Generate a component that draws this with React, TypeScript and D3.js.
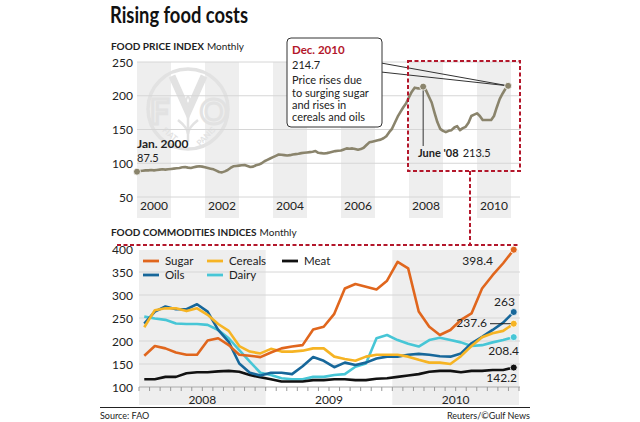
import React from 'react';
import * as d3 from 'd3';

// ---------- DATA ----------
const fpiYears = [2000, 2001, 2002, 2003, 2004, 2005, 2006, 2007, 2008, 2009, 2010];
const fpiYearLabels = ['2000', '2002', '2004', '2006', '2008', '2010'];
const fpiTicks = [50, 100, 150, 200, 250];
// FAO food price index, monthly Jan 2000 - Dec 2010
const fpi2000 = [87.5, 88.5, 89, 89.5, 89.5, 90, 89.5, 90, 90.5, 91, 90.5, 91];
const fpi2001 = [91.5, 92, 92.5, 93, 94, 94.5, 93.5, 93, 94, 95, 95.5, 95];
const fpi2002 = [94, 93, 92, 91, 89, 87, 86.5, 88, 90, 93, 95.5, 96];
const fpi2003 = [96.5, 97, 97.5, 96, 94.5, 95, 97, 98, 100, 103, 105, 107];
const fpi2004 = [109, 111, 113, 112.5, 112, 111.5, 112, 113, 113.5, 114, 115, 115.5];
const fpi2005 = [116, 116.5, 117, 118, 115.5, 115, 114.5, 115, 116, 117, 118, 118.5];
const fpi2006 = [119, 120.5, 122, 121.5, 122, 121, 120, 121, 123, 127, 131, 132];
const fpi2007 = [133, 134, 135, 137, 140, 146, 151, 160, 169, 176, 183, 189];
const fpi2008 = [198, 206, 212, 211, 211, 213.5, 208, 199, 190, 175, 161, 151];
const fpi2009 = [148, 146, 148, 149, 153, 155, 149, 152, 154, 160, 170, 172];
const fpi2010 = [174, 170, 164, 164, 164, 164, 170, 183, 195, 203, 210, 214.7];
const fpiMonthly = [
  ...fpi2000, ...fpi2001, ...fpi2002, ...fpi2003, ...fpi2004, ...fpi2005,
  ...fpi2006, ...fpi2007, ...fpi2008, ...fpi2009, ...fpi2010,
];

const commodityYears = ['2008', '2009', '2010'];
const commodityTicks = [100, 150, 200, 250, 300, 350, 400];
const sugar = [168, 189, 184, 175, 170, 170, 201, 206, 191, 170, 168, 165,
  175, 184, 188, 191, 225, 231, 259, 314, 324, 318, 312, 331,
  372, 358, 264, 231, 213, 224, 246, 260, 314, 343, 369, 398.4];
const oils = [238, 264, 275, 269, 269, 280, 264, 224, 198, 151, 131, 125,
  131, 131, 128, 145, 165, 157, 143, 153, 148, 153, 162, 166,
  166, 170, 172, 170, 167, 166, 173, 195, 209, 224, 240, 263];
const cereals = [230, 267, 271, 271, 265, 271, 257, 237, 222, 189, 177, 173,
  183, 177, 177, 179, 184, 184, 166, 161, 157, 166, 170, 170,
  170, 166, 159, 153, 153, 150, 167, 189, 208, 217, 222, 237.6];
const dairy = [253, 249, 246, 238, 237, 237, 235, 224, 206, 180, 155, 131,
  126, 119, 117, 117, 122, 122, 126, 128, 144, 151, 206, 213,
  202, 194, 188, 202, 207, 202, 197, 189, 191, 197, 202, 208.4];
const meat = [117, 117, 122, 122, 130, 132, 132, 134, 135, 133, 126, 121,
  117, 112, 112, 112, 115, 115, 117, 117, 115, 115, 118, 119,
  122, 125, 128, 133, 135, 135, 132, 135, 135, 137, 137, 142.2];
const endLabels = ['398.4', '263', '237.6', '208.4', '142.2'];

// ---------- STYLE ----------
const FONT = 'Lato, "Open Sans", sans-serif';
const C = {
  sugar: '#e0661d',
  oils: '#17679a',
  cereals: '#f6b424',
  dairy: '#47c6d6',
  meat: '#111111',
  fpi: '#8a846c',
  band: '#eeeeee',
  grid: '#d6d6d6',
  red: '#b3172b',
  text: '#222',
  water: '#e2e2e2',
};

export default function App() {
  // top chart scales
  const xTop = d3.scaleLinear().domain([2000, 2011]).range([137, 511]);
  const yTop = d3.scaleLinear().domain([50, 250]).range([197, 62]);
  const fpiLine = d3.line<number>()
    .x((_, i) => xTop(2000 + i / 12))
    .y((v) => yTop(v));

  // bottom chart scales
  const xLow = d3.scaleLinear().domain([0, 36]).range([139, 519]);
  const yLow = d3.scaleLinear().domain([100, 400]).range([387, 249]);
  const lowLine = d3.line<number>()
    .x((_, i) => xLow(i + 0.5))
    .y((v) => yLow(v));

  const series = [
    { name: 'Dairy', data: dairy, color: C.dairy },
    { name: 'Meat', data: meat, color: C.meat },
    { name: 'Oils', data: oils, color: C.oils },
    { name: 'Cereals', data: cereals, color: C.cereals },
    { name: 'Sugar', data: sugar, color: C.sugar },
  ];

  const jan00 = fpiMonthly[0];
  const jun08Idx = 8 * 12 + 5;
  const lastIdx = fpiMonthly.length - 1;
  const lastX = xTop(2000 + lastIdx / 12);
  const lastY = yTop(fpiMonthly[lastIdx]);
  const junX = xTop(2000 + jun08Idx / 12);
  const junY = yTop(fpiMonthly[jun08Idx]);

  const last = (a: number[]) => a[a.length - 1];
  const endX = xLow(35.5);

  return (
    <div style={{ position: 'absolute', left: 0, top: 0 }}>
      <svg width={640} height={422} style={{ display: 'block', fontFamily: FONT }}>
        <rect x={0} y={0} width={640} height={422} fill="#fff" />

        {/* Title */}
        <text x={110} y={23} fontSize={22} fontWeight={700} fill="#111" textLength={138} lengthAdjust="spacingAndGlyphs">Rising food costs</text>

        {/* ---------- TOP CHART ---------- */}
        <text x={111} y={50} fontSize={10} fill={C.text}>
          <tspan fontWeight={700}>FOOD PRICE INDEX</tspan>
          <tspan dx={3}>Monthly</tspan>
        </text>

        {fpiYears.filter((y) => (y - 2000) % 2 === 0).map((y) => (
          <rect key={y} x={xTop(y)} y={62} width={xTop(y + 1) - xTop(y)} height={156} fill={C.band} />
        ))}

        {/* FAO watermark */}
        <g fill="none" stroke={C.water}>
          <circle cx={188} cy={109} r={40} strokeWidth={3.5} />
          <path d="M172 76 L188 112 L204 76" strokeWidth={7} strokeLinejoin="miter" />
          <path d="M188 96 q-4 6 0 9 q4 -3 0 -9" strokeWidth={2} />
          <path d="M188 112 L188 142" strokeWidth={2.5} />
          <path d="M178 120 q10 8 10 14 M198 120 q-10 8 -10 14" strokeWidth={2.5} />
        </g>
        <text x={150} y={124} fontSize={34} fontWeight={700} fill="none" stroke={C.water} strokeWidth={3}>F</text>
        <text x={200} y={124} fontSize={34} fontWeight={700} fill="none" stroke={C.water} strokeWidth={3}>O</text>
        <text x={162} y={134} fontSize={8} fontWeight={700} fill={C.water} transform="rotate(40 166 132)">FIAT</text>
        <text x={196} y={143} fontSize={8} fontWeight={700} fill={C.water} transform="rotate(-45 202 140)">PANIS</text>

        {fpiTicks.map((t) => (
          <g key={t}>
            <line x1={137} x2={520} y1={yTop(t)} y2={yTop(t)} stroke={C.grid} strokeWidth={1} />
            <text x={133} y={yTop(t) + 4.5} fontSize={12} textAnchor="end" fill={C.text}>{t}</text>
          </g>
        ))}
        {fpiYearLabels.map((l) => (
          <text key={l} x={xTop(+l + 0.5)} y={210} fontSize={12} textAnchor="middle" fill={C.text}>{l}</text>
        ))}

        <path d={fpiLine(fpiMonthly) || ''} fill="none" stroke={C.fpi} strokeWidth={2.6} strokeLinejoin="round" />

        {/* Jan 2000 */}
        <circle cx={xTop(2000)} cy={yTop(jan00)} r={3.5} fill={C.fpi} stroke="#fff" strokeWidth={0.8} />
        <text x={137} y={148} fontSize={12} fontWeight={700} fill={C.text}>Jan. 2000</text>
        <text x={137} y={162} fontSize={11} fill={C.text}>{jan00}</text>

        {/* June 08 */}
        <line x1={junX} x2={junX} y1={junY} y2={146} stroke="#333" strokeWidth={1} />
        <circle cx={junX} cy={junY} r={3.5} fill={C.fpi} stroke="#fff" strokeWidth={0.8} />
        <text x={418} y={157} fontSize={11} fill={C.text}>
          <tspan fontWeight={700}>June '08</tspan>
          <tspan dx={4}>{fpiMonthly[jun08Idx]}</tspan>
        </text>

        {/* callout */}
        <line x1={381} y1={63} x2={lastX} y2={lastY} stroke="#333" strokeWidth={1} />
        <line x1={381} y1={72} x2={lastX} y2={lastY} stroke="#333" strokeWidth={1} />
        <rect x={287} y={38} width={95} height={89} rx={4} fill="#fff" stroke="#333" strokeWidth={1} />
        <text x={292} y={54} fontSize={11.5} fontWeight={700} fill={C.red}>Dec. 2010</text>
        <text x={292} y={69} fontSize={11} fill={C.text}>{fpiMonthly[lastIdx]}</text>
        <text x={292} y={84} fontSize={11} fill={C.text}>Price rises due</text>
        <text x={292} y={97} fontSize={11} fill={C.text}>to surging sugar</text>
        <text x={292} y={109} fontSize={11} fill={C.text}>and rises in</text>
        <text x={292} y={121} fontSize={11} fill={C.text}>cereals and oils</text>
        <circle cx={lastX} cy={lastY} r={3.5} fill={C.fpi} stroke="#fff" strokeWidth={0.8} />

        {/* red dashed zoom box */}
        <rect x={408} y={61} width={112} height={110} fill="none" stroke={C.red} strokeWidth={2} strokeDasharray="4 2.5" />
        <line x1={470} x2={470} y1={171} y2={245} stroke={C.red} strokeWidth={2} strokeDasharray="4 2.5" />

        {/* ---------- BOTTOM CHART ---------- */}
        <text x={111} y={236} fontSize={10} fill={C.text}>
          <tspan fontWeight={700}>FOOD COMMODITIES INDICES</tspan>
          <tspan dx={3}>Monthly</tspan>
        </text>

        {[0, 2].map((k) => (
          <rect key={k} x={xLow(k * 12)} y={250} width={xLow(12) - xLow(0)} height={155} fill={C.band} />
        ))}

        <line x1={117} x2={520} y1={245} y2={245} stroke={C.red} strokeWidth={2} strokeDasharray="4 2.5" />

        {commodityTicks.map((t) => (
          <g key={t}>
            {t > 100 && t < 400 && (
              <line x1={139} x2={520} y1={yLow(t)} y2={yLow(t)} stroke={C.grid} strokeWidth={1} />
            )}
            <text x={133} y={yLow(t) + 4.5} fontSize={12} textAnchor="end" fill={C.text}>{t}</text>
          </g>
        ))}
        <line x1={139} x2={520} y1={yLow(100)} y2={yLow(100)} stroke="#aaa" strokeWidth={1} />
        {d3.range(0, 37).map((k) => (
          <line key={k} x1={xLow(k)} x2={xLow(k)} y1={yLow(100)} y2={yLow(100) + 4} stroke="#999" strokeWidth={1} />
        ))}
        {commodityYears.map((l, k) => (
          <text key={l} x={xLow(k * 12 + 6)} y={404} fontSize={12} textAnchor="middle" fill={C.text}>{l}</text>
        ))}

        {series.map((s) => (
          <path key={s.name} d={lowLine(s.data) || ''} fill="none" stroke={s.color} strokeWidth={2.6} strokeLinejoin="round" />
        ))}
        {series.map((s) => (
          <circle key={s.name} cx={endX} cy={yLow(last(s.data))} r={3.5} fill={s.color} stroke="#fff" strokeWidth={0.8} />
        ))}

        {/* legend */}
        {[
          { n: 'Sugar', c: C.sugar, x: 143, y: 261 },
          { n: 'Oils', c: C.oils, x: 143, y: 275 },
          { n: 'Cereals', c: C.cereals, x: 207, y: 261 },
          { n: 'Dairy', c: C.dairy, x: 207, y: 275 },
          { n: 'Meat', c: C.meat, x: 282, y: 261 },
        ].map((l) => (
          <g key={l.n}>
            <line x1={l.x} x2={l.x + 16} y1={l.y} y2={l.y} stroke={l.c} strokeWidth={2.8} />
            <text x={l.x + 22} y={l.y + 4} fontSize={11.5} fill={C.text}>{l.n}</text>
          </g>
        ))}

        {/* end labels */}
        <text x={493} y={265} fontSize={12} textAnchor="end" fill={C.text}>{endLabels[0]}</text>
        <text x={515} y={306} fontSize={12} textAnchor="end" fill={C.text}>{endLabels[1]}</text>
        <line x1={490} x2={endX - 3} y1={yLow(last(cereals))} y2={yLow(last(cereals))} stroke="#222" strokeWidth={1} />
        <text x={487} y={327} fontSize={12} textAnchor="end" fill={C.text}>{endLabels[2]}</text>
        <text x={519} y={355} fontSize={12} textAnchor="end" fill={C.text}>{endLabels[3]}</text>
        <text x={517} y={382} fontSize={12} textAnchor="end" fill={C.text}>{endLabels[4]}</text>

        {/* footer */}
        <line x1={100} x2={530} y1={407.5} y2={407.5} stroke="#222" strokeWidth={1} />
        <text x={100} y={419} fontSize={9} fill={C.text}>Source: FAO</text>
        <text x={530} y={419} fontSize={9} textAnchor="end" fill={C.text}>Reuters/©Gulf News</text>
      </svg>
    </div>
  );
}
